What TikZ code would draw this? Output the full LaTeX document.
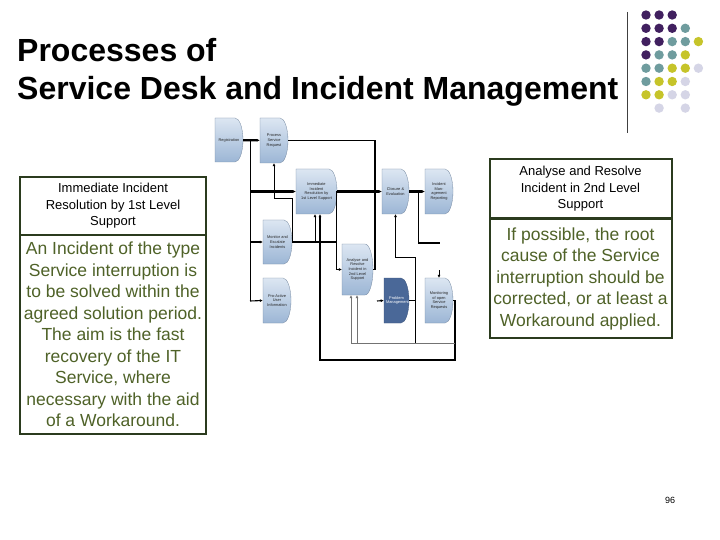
\documentclass[tikz,border=0pt]{standalone}
\usepackage{fontspec}
\setmainfont{Liberation Sans}
\usetikzlibrary{arrows.meta}
\definecolor{dpurple}{HTML}{41205F}
\definecolor{dteal}{HTML}{6F9C9E}
\definecolor{dyellow}{HTML}{C6C42A}
\definecolor{dlav}{HTML}{D5D5E6}
\definecolor{bordergreen}{HTML}{2B3B1E}
\definecolor{olivetext}{HTML}{4F6228}
\definecolor{boxtop}{HTML}{DCE6F2}
\definecolor{boxbot}{HTML}{9CB6D5}
\definecolor{pmblue}{HTML}{4A6898}
\tikzset{
  procshape/.style={top color=boxtop, bottom color=boxbot, draw=boxbot!75!black, line width=0.3pt},
  pmshape/.style={fill=pmblue, draw=pmblue!80!black, line width=0.3pt},
  proctext/.style={inner sep=0pt, align=center, font=\fontsize{3.9}{4.7}\selectfont, text=black!85},
  pmtext/.style={proctext, text=white, font=\fontsize{3.9}{4.9}\selectfont},
  hdrbox/.style={draw=bordergreen, line width=2pt, align=center, inner sep=0pt,
    font=\fontsize{13}{16.5}\selectfont},
  bodybox/.style={draw=bordergreen, line width=2pt, align=center, inner sep=0pt,
    text=olivetext, font=\fontsize{17.5}{21.5}\selectfont},
  thk/.style={line width=2.2pt},
  midl/.style={line width=1.1pt},
  thn/.style={line width=0.6pt},
  gryl/.style={line width=0.8pt, black!55},
  tip/.style={-{Latex[length=3pt,width=3pt]}},
  dot/.style={inner sep=0pt, minimum size=9.4pt, circle, fill=#1}
}
% #1 name, #2 x, #3 y, #4 w, #5 h, #6 shape style, #7 text style, #8 text width, #9 text
\newcommand\myproc[9]{%
  \path[#6] ({#2-#4/2},{#3-#5/2}) -- ({#2+#4/2-8},{#3-#5/2})
    .. controls ({#2+#4/2-3.6},{#3-#5/2}) and ({#2+#4/2},{#3-0.276*#5}) .. ({#2+#4/2},{#3})
    .. controls ({#2+#4/2},{#3+0.276*#5}) and ({#2+#4/2-3.6},{#3+#5/2}) .. ({#2+#4/2-8},{#3+#5/2})
    -- ({#2-#4/2},{#3+#5/2}) -- cycle;
  \node[#7, minimum width=#4, minimum height=#5, text width=#8] (#1) at (#2,#3) {#9};
}
\begin{document}
\begin{tikzpicture}[x=1pt,y=-1pt]
\useasboundingbox[fill=white] (0,0) rectangle (720,540);

% title
\node[anchor=base west, inner sep=0pt, font=\bfseries\fontsize{32}{38}\selectfont] (t1) at (17,62) {Processes of};
\node[anchor=base west, inner sep=0pt, font=\bfseries\fontsize{32}{38}\selectfont] (t2) at (17,100) {Service Desk and Incident Management};

% vertical rule
\coordinate (vt) at (627,12);
\coordinate (vb) at (627,133);
\draw[line width=1pt, black!75] (vt) -- (vb);

% dots
\foreach \c/\r/\col [count=\i] in {
 0/0/dpurple,1/0/dpurple,2/0/dpurple,
 0/1/dpurple,1/1/dpurple,2/1/dpurple,3/1/dteal,
 0/2/dpurple,1/2/dpurple,2/2/dteal,3/2/dteal,4/2/dyellow,
 0/3/dpurple,1/3/dteal,2/3/dteal,3/3/dyellow,
 0/4/dteal,1/4/dteal,2/4/dyellow,3/4/dyellow,4/4/dlav,
 0/5/dteal,1/5/dyellow,2/5/dyellow,3/5/dlav,
 0/6/dyellow,1/6/dyellow,2/6/dlav,3/6/dlav,
 1/7/dlav,3/7/dlav}
  \node[dot=\col] (dot\i) at ({646+13.1*\c},{15+13.3*\r}) {};

% left text boxes
\node[hdrbox, minimum width=186, minimum height=57] (lh) at (113,206) {Immediate Incident\\Resolution by 1st Level\\Support};
\node[bodybox, minimum width=186, minimum height=199] (lb) at (113,334.5) {An Incident of the type\\Service interruption is\\to be solved within the\\agreed solution period.\\The aim is the fast\\recovery of the IT\\Service, where\\necessary with the aid\\of a Workaround.};

% right text boxes
\node[hdrbox, minimum width=182, minimum height=59] (rh) at (580.5,189) {Analyse and Resolve\\Incident in 2nd Level\\Support};
\node[bodybox, minimum width=182, minimum height=119] (rb) at (580.5,278.5) {If possible, the root\\cause of the Service\\interruption should be\\corrected, or at least a\\Workaround applied.};

% process boxes
\myproc{A}{229}{140}{28}{44}{procshape}{proctext}{22}{Registration}
\myproc{B}{274}{140.5}{28}{45}{procshape}{proctext}{22}{Process Service Request}
\myproc{C}{316.5}{191.5}{41}{45}{procshape}{proctext}{33}{Immediate Incident\\Resolution by\\1st Level Support}
\myproc{D}{395.5}{191.5}{27}{45}{procshape}{proctext}{21}{Closure \&\\Evaluation}
\myproc{E}{439}{191.5}{28}{45}{procshape}{proctext}{22}{Incident Management Reporting}
\myproc{F}{277.5}{242}{29}{44}{procshape}{proctext}{23}{Monitor and Escalate Incidents}
\myproc{G}{277}{300.5}{28}{45}{procshape}{proctext}{22}{Pro-Active User Information}
\myproc{H}{357.5}{269.5}{31}{51}{procshape}{proctext}{25}{Analyse and Resolve Incident in 2nd Level Support}
\myproc{I}{396.5}{300.5}{25}{45}{pmshape}{pmtext}{21}{Problem\\Management}
\myproc{J}{439}{300.5}{28}{45}{procshape}{proctext}{22}{Monitoring of open Service Requests}

% connectors
\draw[thk,tip] (A) -- (B);
\coordinate (v1) at (250,140);
\coordinate (v1b) at (250,301);
\draw[thn] (v1) -- (v1b);
\draw[thk,tip] (v1 |- C.west) -- (C.west);
\draw[thk,tip] (v1 |- F.west) -- (F.west);
\draw[midl,tip] (v1b) -- (G.west);

\coordinate (k1) at (375,200);
\draw[midl] (B.east) -| (k1) |- (H.east);

\draw[thk,tip] (C.east) -- (D.west);
\draw[thk,tip] (D.east) -- (E.west);

\coordinate (e1) at (418,191.5);
\coordinate (e2) at (418,243);
\coordinate (e3) at (440,243);
\draw[thn] (e1) -- (e2);
\draw[thk] (e2) -- (e3);

\coordinate (c1) at (336,191.5);
\draw[thn,tip] (c1) |- (H.west);
\draw[thk] (F.east) -- (F.east -| c1);

\coordinate (f1) at (315,243);
\draw[thn,tip] (f1) -- (f1 |- C.south);

\coordinate (b1) at (292,243);
\coordinate (b2) at (292,198);
\draw[thn,tip] (b1) -- (b2) -| (B.south);

\coordinate (j1) at (455,360);
\coordinate (j2) at (320,360);
\draw[midl,tip] (J.east) -| (j1) -- (j2) -- (j2 |- C.south);

\coordinate (i1) at (415,343);
\coordinate (i2) at (415,257);
\draw[thn] (I.east) -| (i1);
\draw[thn,tip] (i1) -- (i2) -| (D.south);

\coordinate (h1) at (351,343);
\coordinate (h2) at (357,343);
\coordinate (h3) at (455,343);
\draw[gryl] (h1) -- (h3);
\draw[gryl,tip] (h1) -- (h1 |- H.south);
\draw[gryl,tip] (h2) -- (h2 |- H.south);

\coordinate (i0) at (377,301);
\draw[midl,tip] (i0) -- (I.west);
\coordinate (j0) at (439,270);
\draw[thn,tip] (j0) -- (J.north);

% page number
\node[font=\fontsize{9}{11}\selectfont] (pg) at (670,500) {96};
\end{tikzpicture}
\end{document}
